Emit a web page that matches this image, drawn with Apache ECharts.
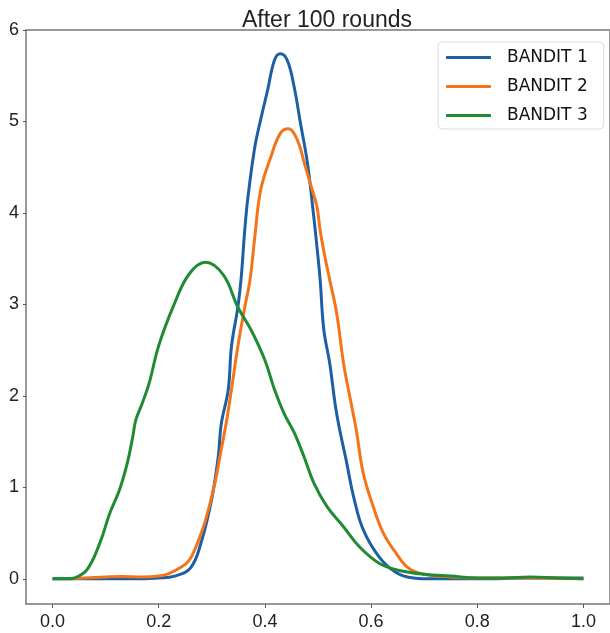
<!DOCTYPE html>
<html>
<head>
<meta charset="utf-8">
<script src="https://cdn.jsdelivr.net/npm/echarts@6/dist/echarts.min.js"></script>
<style>
html,body{margin:0;padding:0;background:#fff;}
#chart{width:610px;height:633px;}
</style>
</head>
<body>
<div id="chart"></div>
<script>
var title = 'After 100 rounds';
var seriesNames = ['BANDIT 1', 'BANDIT 2', 'BANDIT 3'];
var xTicks = [0, 0.2, 0.4, 0.6, 0.8, 1.0];
var yTicks = [0, 1, 2, 3, 4, 5, 6];

var bandit1X = [0.00,0.05,0.10,0.15,0.20,0.23,0.26,0.28,0.30,0.312,0.318,0.331,0.337,0.349,0.355,0.362,0.368,0.381,0.392,0.405,0.418,0.429,0.442,0.455,0.467,0.48,0.492,0.498,0.504,0.511,0.522,0.535,0.554,0.567,0.585,0.615,0.647,0.68,0.72,0.8,0.9,1.0];
var bandit1Y = [0,0,0,0,0.01,0.03,0.12,0.4,0.88,1.33,1.7,2.07,2.54,2.97,3.27,3.81,4.17,4.72,5.02,5.34,5.67,5.74,5.67,5.38,4.98,4.55,3.96,3.63,3.27,2.72,2.36,1.81,1.27,0.9,0.54,0.24,0.07,0.01,0,0,0.01,0.01];

var bandit2X = [0.03,0.06,0.10,0.13,0.17,0.20,0.22,0.24,0.257,0.27,0.288,0.307,0.315,0.327,0.337,0.349,0.362,0.372,0.381,0.392,0.411,0.429,0.444,0.461,0.474,0.485,0.498,0.504,0.513,0.522,0.535,0.548,0.56,0.572,0.585,0.604,0.623,0.647,0.67,0.70,0.75,0.80,0.90,1.0];
var bandit2Y = [0,0.01,0.02,0.025,0.02,0.03,0.06,0.12,0.2,0.35,0.64,1.08,1.33,1.7,2.07,2.54,2.97,3.27,3.74,4.25,4.61,4.87,4.92,4.80,4.55,4.33,4.07,3.81,3.52,3.27,2.91,2.36,1.99,1.63,1.16,0.79,0.5,0.28,0.12,0.05,0.02,0.01,0.01,0];

var bandit3X = [0.0,0.03,0.042,0.065,0.089,0.108,0.126,0.141,0.151,0.157,0.169,0.182,0.2,0.229,0.257,0.288,0.322,0.349,0.374,0.4,0.418,0.436,0.455,0.474,0.492,0.517,0.548,0.578,0.615,0.647,0.7,0.75,0.8,0.85,0.9,0.95,1.0];
var bandit3Y = [0,0,0.01,0.1,0.39,0.72,0.97,1.27,1.55,1.74,1.92,2.14,2.55,3.0,3.33,3.46,3.32,2.97,2.72,2.39,2.07,1.81,1.6,1.33,1.05,0.79,0.57,0.35,0.17,0.1,0.05,0.03,0.01,0.01,0.02,0.01,0];

function pairs(xs, ys){ return xs.map(function(x,i){ return [x, ys[i]]; }); }

var colors = ['#1d5fa5', '#f5741a', '#218a32'];
var xsAll = [bandit1X, bandit2X, bandit3X];
var ysAll = [bandit1Y, bandit2Y, bandit3Y];

var chart = echarts.init(document.getElementById('chart'), null, {renderer:'canvas'});
var font = 'Liberation Sans, Arial, sans-serif';
chart.setOption({
  animation: false,
  backgroundColor: '#fff',
  title: {
    text: title, left: 322, top: 4, textAlign: 'center',
    textStyle: {fontFamily: font, fontSize: 23, fontWeight: 'normal', color: '#222'}
  },
  grid: {left: 26, top: 30, width: 592, bottom: 29, show: true, borderColor: '#777', borderWidth: 1.5, backgroundColor: 'transparent'},
  legend: {
    orient: 'vertical', left: 438, top: 42,
    data: seriesNames,
    icon: 'roundRect',
    itemWidth: 45, itemHeight: 3, itemGap: 12,
    padding: [7, 16, 5, 8],
    borderColor: '#ddd', borderWidth: 1, borderRadius: 4,
    backgroundColor: '#fff',
    textStyle: {fontFamily: 'DejaVu Sans, sans-serif', fontSize: 17, lineHeight: 17, color: '#111', padding: [0,0,0,11]}
  },
  xAxis: {
    type: 'value', min: -0.05, max: 1.05,
    axisLine: {show: false, onZero: false},
    splitLine: {show: false},
    axisTick: {show: true, length: 4, lineStyle: {color: '#555'}, customValues: xTicks},
    axisLabel: {fontFamily: font, fontSize: 18, color: '#222', margin: 9, customValues: xTicks,
      formatter: function(v){ return v.toFixed(1); }}
  },
  yAxis: {
    type: 'value', min: -0.275, max: 6,
    axisLine: {show: false, onZero: false},
    splitLine: {show: false},
    axisTick: {show: true, length: 3, lineStyle: {color: '#555'}, customValues: yTicks},
    axisLabel: {fontFamily: font, fontSize: 18, color: '#222', margin: 7, customValues: yTicks,
      formatter: function(v){ return String(Math.round(v)); }}
  },
  series: seriesNames.map(function(n, i){
    return {
      name: n, type: 'line', smooth: 0.4, showSymbol: false, symbol: 'none',
      data: pairs(xsAll[i], ysAll[i]),
      lineStyle: {color: colors[i], width: 3},
      itemStyle: {color: colors[i]},
      z: 2 + i
    };
  })
});
</script>
</body>
</html>
